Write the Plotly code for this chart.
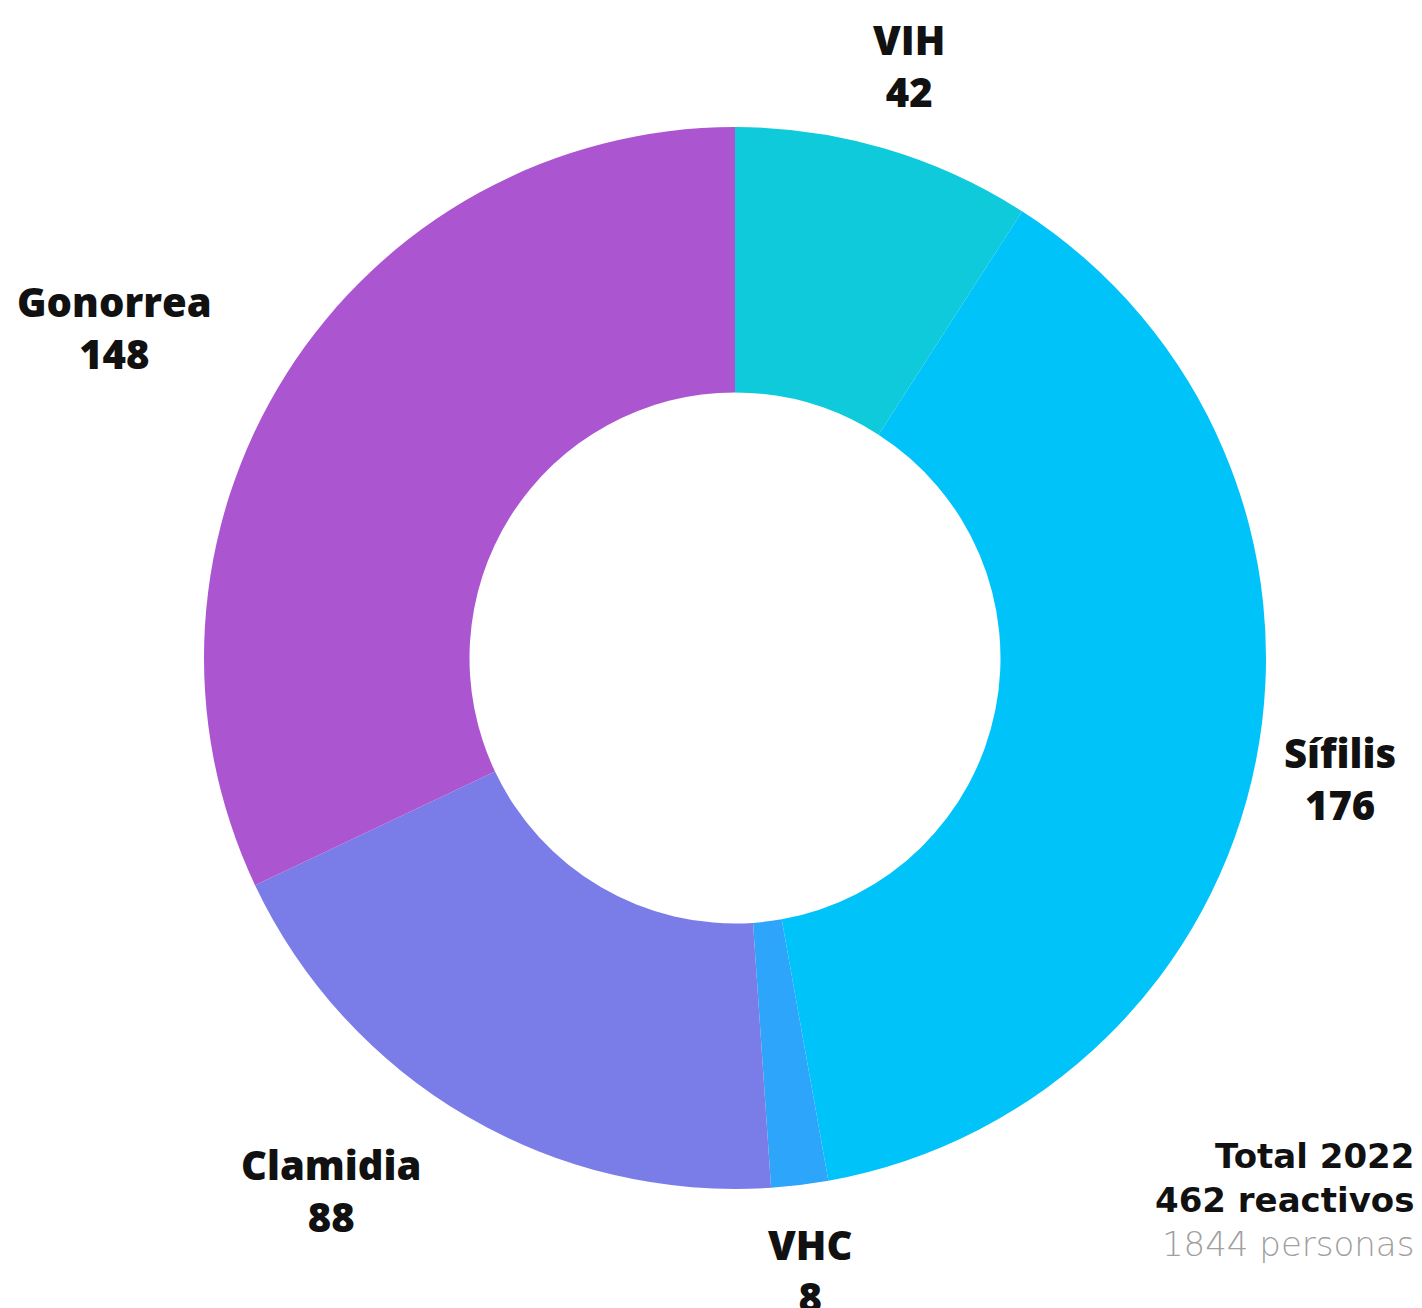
import math
import plotly.graph_objects as go

labels = ["VIH", "Sífilis", "VHC", "Clamidia", "Gonorrea"]
values = [42, 176, 8, 88, 148]
colors = ["#0ECADB", "#00C3FA", "#2CA5FA", "#7A7CE8", "#AC55D0"]
label_anchor = ["center", "center", "center", "right", "right"]
total_lines = ["Total 2022", "462 reactivos", "1844 personas"]

W, H = 1422, 1308
OFF = 8  # page body margin
cx, cy, R = 735 - OFF, 658 - OFF, 531
dom_x = [(cx - R) / W, (cx + R) / W]
dom_y = [(H - cy - R) / H, (H - cy + R) / H]

fig = go.Figure(go.Pie(
    labels=labels, values=values, sort=False, direction="clockwise", rotation=0,
    hole=0.5, marker=dict(colors=colors, line=dict(width=0)),
    textinfo="none", hoverinfo="label+value", showlegend=False,
    domain=dict(x=dom_x, y=dom_y),
))

font_lbl = dict(family="Open Sans", size=40, color="#111111", weight=800)
total = sum(values)
cum = 0
rl = 1.162 * R
for lab, v, anc in zip(labels, values, label_anchor):
    mid = (cum + v / 2) / total * 2 * math.pi
    cum += v
    px = cx + rl * math.sin(mid)
    py = cy - rl * math.cos(mid)
    fig.add_annotation(x=px / W, y=1 - py / H, xref="paper", yref="paper",
                       text=f"{lab}<br>{v}", showarrow=False, xanchor=anc,
                       yanchor="middle", align="center", font=font_lbl)

fig.add_annotation(
    x=(1416 - OFF) / W, y=1 - (1200 - OFF) / H, xref="paper", yref="paper",
    showarrow=False, xanchor="right", yanchor="middle", align="right",
    text=(f"<b>{total_lines[0]}</b><br><b>{total_lines[1]}</b><br>"
          f"<span style='color:#a0a0a0;font-weight:200'>{total_lines[2]}</span>"),
    font=dict(family="DejaVu Sans", size=34, color="#111111"),
)

fig.update_layout(width=W, height=H, margin=dict(l=0, r=0, t=0, b=0),
                  paper_bgcolor="white", plot_bgcolor="white")
fig.write_html("out.html")
